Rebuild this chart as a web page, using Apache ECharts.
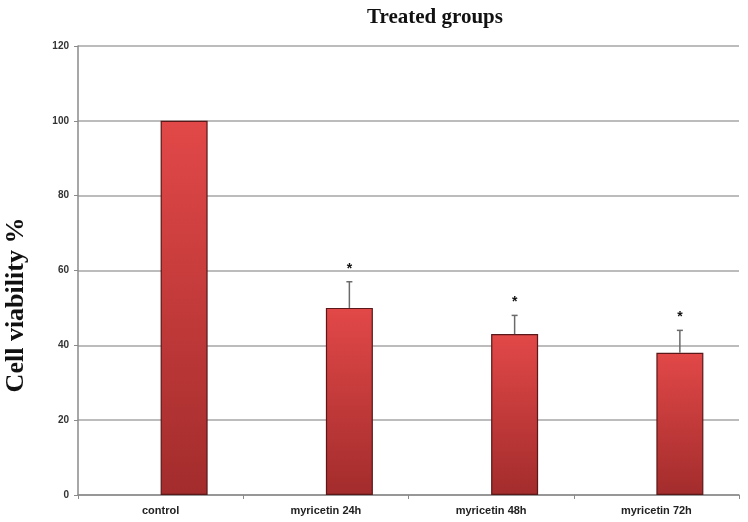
<!DOCTYPE html>
<html>
<head>
<meta charset="utf-8">
<script src="https://cdn.jsdelivr.net/npm/echarts@6/dist/echarts.min.js"></script>
<style>
  html, body { margin: 0; padding: 0; background: #fff; }
  #chart { width: 748px; height: 522px; }
</style>
</head>
<body>
<div id="chart"></div>
<script>
// values
const groups = ['control', 'myricetin 24h', 'myricetin 48h', 'myricetin 72h']
const viability = [100, 50, 43, 38]
const errorUp = [0, 7, 5, 6]
const significant = [false, true, true, true]

const BAR_W = 47

const chart = echarts.init(document.getElementById('chart'))

const option = {
  backgroundColor: '#fff',
  animation: false,
  title: {
    text: 'Treated groups',
    left: 430,
    top: 2,
    textAlign: 'center',
    textStyle: {
      fontFamily: 'Liberation Serif',
      fontWeight: 'bold',
      fontSize: 21,
      color: '#111'
    }
  },
  graphic: [{
    type: 'text',
    rotation: Math.PI / 2,
    x: 16,
    y: 305,
    style: {
      text: 'Cell viability %',
      fontFamily: 'Liberation Serif',
      fontWeight: 'bold',
      fontSize: 26,
      fill: '#111',
      textAlign: 'center',
      textVerticalAlign: 'middle'
    }
  }],
  grid: { left: 78, right: 9, top: 46, bottom: 27 },
  xAxis: {
    type: 'category',
    data: groups,
    axisLine: { lineStyle: { color: '#8a8a8a', width: 1.5 } },
    axisTick: { show: true, length: 4, lineStyle: { color: '#8a8a8a' } },
    axisLabel: {
      margin: 10,
      fontFamily: 'Liberation Sans Narrow, Liberation Sans',
      fontWeight: 'bold',
      fontSize: 11,
      color: '#222'
    }
  },
  yAxis: {
    type: 'value',
    min: 0,
    max: 120,
    interval: 20,
    axisLine: { show: true, lineStyle: { color: '#8a8a8a', width: 1.5 } },
    axisTick: { show: true, length: 4, lineStyle: { color: '#8a8a8a' } },
    axisLabel: {
      margin: 9,
      fontFamily: 'Liberation Sans Narrow, Liberation Sans',
      fontWeight: 'bold',
      fontSize: 10,
      color: '#333'
    },
    splitLine: { lineStyle: { color: '#a6a6a6', width: 1.6 } }
  },
  series: [
    {
      // empty slot so the real bar sits right of the category centre
      name: 'spacer',
      type: 'bar',
      barWidth: BAR_W,
      barGap: '0%',
      data: groups.map(() => '-'),
      itemStyle: { opacity: 0 }
    },
    {
      name: 'Cell viability',
      type: 'bar',
      barWidth: BAR_W,
      barGap: '0%',
      data: viability,
      itemStyle: {
        color: new echarts.graphic.LinearGradient(0, 0, 0, 1, [
          { offset: 0, color: '#e24848' },
          { offset: 1, color: '#a32c2c' }
        ]),
        borderColor: '#5a1818',
        borderWidth: 1.2
      }
    },
    {
      name: 'error',
      type: 'custom',
      data: groups.map((g, i) => [i, viability[i], errorUp[i], significant[i] ? 1 : 0]),
      z: 5,
      renderItem(params, api) {
        const i = api.value(0)
        const v = api.value(1)
        const e = api.value(2)
        const base = api.coord([i, v])
        const top = api.coord([i, v + e])
        const x = base[0] + BAR_W / 2
        const children = []
        if (e > 0) {
          children.push({
            type: 'line',
            shape: { x1: x, y1: base[1], x2: x, y2: top[1] },
            style: { stroke: '#6a6a6a', lineWidth: 1.5 }
          })
          children.push({
            type: 'line',
            shape: { x1: x - 3, y1: top[1], x2: x + 3, y2: top[1] },
            style: { stroke: '#6a6a6a', lineWidth: 1.5 }
          })
        }
        if (api.value(3)) {
          children.push({
            type: 'text',
            x: x,
            y: top[1] - 13,
            style: {
              text: '*',
              fontFamily: 'Liberation Sans',
              fontWeight: 'bold',
              fontSize: 14,
              fill: '#111',
              textAlign: 'center',
              textVerticalAlign: 'middle'
            }
          })
        }
        return { type: 'group', children }
      }
    }
  ]
}

chart.setOption(option)
</script>
</body>
</html>
